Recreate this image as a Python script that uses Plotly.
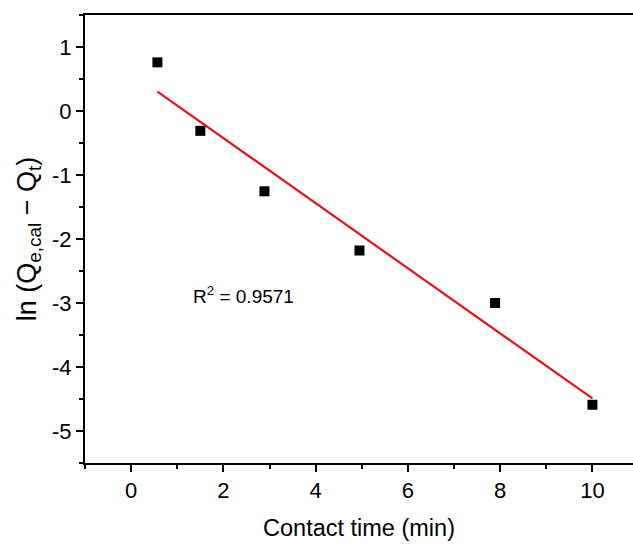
import numpy as np
import plotly.graph_objects as go

# Pseudo-first-order kinetics data
contact_time = [0.57, 1.5, 2.89, 4.95, 7.89, 10.0]
ln_q_diff = [0.76, -0.31, -1.255, -2.18, -3.0, -4.59]
r2_label = "R<sup>2</sup> = 0.9571"

x_ticks = [0, 2, 4, 6, 8, 10]
x_tick_text = ["0", "2", "4", "6", "8", "10"]
y_ticks = [1, 0, -1, -2, -3, -4, -5]
y_tick_text = ["1", "0", "-1", "-2", "-3", "-4", "-5"]

# Linear fit through the measured points
slope, intercept = np.polyfit(contact_time, ln_q_diff, 1)
fit_x = [contact_time[0], contact_time[-1]]
fit_y = [slope * v + intercept for v in fit_x]

font_family = "Liberation Sans, Arial, sans-serif"

fig = go.Figure()
fig.add_trace(go.Scatter(
    x=fit_x, y=fit_y, mode="lines",
    line=dict(color="#e8121a", width=2.2),
    showlegend=False, hoverinfo="skip",
))
fig.add_trace(go.Scatter(
    x=contact_time, y=ln_q_diff, mode="markers",
    marker=dict(symbol="square", size=10, color="black", line=dict(width=0)),
    showlegend=False,
))

fig.add_annotation(
    x=1.3, y=-2.88, xref="x", yref="y", xanchor="left", yanchor="middle",
    text=r2_label, showarrow=False,
    font=dict(family=font_family, size=19, color="black"),
)

axis_common = dict(
    showline=True, linecolor="black", linewidth=2,
    ticks="outside", ticklen=7, tickwidth=2, tickcolor="black",
    showgrid=False, zeroline=False,
    tickfont=dict(family=font_family, size=22, color="black"),
)

fig.update_xaxes(
    range=[-1, 10.88], tickvals=x_ticks, ticktext=x_tick_text, mirror=True,
    minor=dict(dtick=1, tick0=0, ticks="outside", ticklen=4, tickwidth=2, tickcolor="black"),
    title=dict(text="Contact time (min)", font=dict(family=font_family, size=23.5, color="black"), standoff=17),
    **axis_common,
)
fig.update_yaxes(
    range=[-5.5, 1.5], tickvals=y_ticks, ticktext=y_tick_text, mirror=False,
    minor=dict(dtick=0.5, tick0=0, ticks="outside", ticklen=4, tickwidth=2, tickcolor="black"),
    title=dict(text="ln (Q<sub>e,cal</sub> − Q<sub>t</sub>)", font=dict(family=font_family, size=27, color="black"), standoff=8),
    **axis_common,
)

fig.update_layout(
    width=633, height=545,
    margin=dict(l=85, r=0, t=15, b=82),
    paper_bgcolor="white", plot_bgcolor="white",
)

fig.write_html("out.html")
